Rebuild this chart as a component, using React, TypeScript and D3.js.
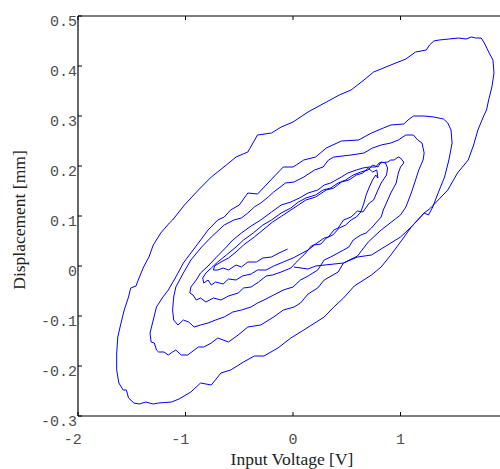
import React from 'react';
import * as d3 from 'd3';

// measured displacement vs. input voltage, one continuous decaying spiral
const startPath = [[0.01,-0.002],[0.14,-0.006],[0.21,0],[0.47,0.006],[0.60,0.018],[0.73,0.022],[0.91,0.046],[1.00,0.058],[1.10,0.078],[1.22,0.106]];

const loop1 = [[1.28,0.116],[1.44,0.152],[1.53,0.186],[1.63,0.212],[1.68,0.242],[1.72,0.272],[1.77,0.298],[1.80,0.312],[1.82,0.332],[1.85,0.358],[1.87,0.386],[1.86,0.412],[1.82,0.428],[1.78,0.446],[1.75,0.456],[1.70,0.456],[1.66,0.458],[1.61,0.454],[1.54,0.456],[1.45,0.454],[1.36,0.452],[1.31,0.450],[1.27,0.442],[1.24,0.432],[1.14,0.428],[1.05,0.414],[0.91,0.402],[0.75,0.388],[0.66,0.372],[0.54,0.352],[0.43,0.342],[0.31,0.328],[0.14,0.308],[0.0,0.288],[-0.11,0.278],[-0.20,0.266],[-0.33,0.262],[-0.42,0.228],[-0.53,0.218],[-0.62,0.202],[-0.76,0.178],[-0.88,0.152],[-1.01,0.122],[-1.12,0.092],[-1.15,0.086],[-1.23,0.066],[-1.30,0.042],[-1.34,0.018],[-1.39,-0.002],[-1.44,-0.028],[-1.46,-0.040],[-1.51,-0.044],[-1.53,-0.062],[-1.57,-0.088],[-1.60,-0.114],[-1.63,-0.142],[-1.64,-0.174],[-1.64,-0.208],[-1.62,-0.234],[-1.58,-0.248],[-1.55,-0.248],[-1.53,-0.264],[-1.48,-0.274],[-1.43,-0.276],[-1.37,-0.272],[-1.30,-0.276],[-1.25,-0.274],[-1.13,-0.272],[-1.06,-0.266],[-0.95,-0.252],[-0.86,-0.234],[-0.76,-0.238],[-0.67,-0.214],[-0.58,-0.208],[-0.46,-0.192],[-0.36,-0.180],[-0.27,-0.180],[-0.14,-0.164],[-0.02,-0.144],[0.10,-0.128],[0.29,-0.102],[0.38,-0.082],[0.47,-0.064],[0.57,-0.040],[0.73,-0.018],[0.82,-0.002],[0.91,0.022],[1.00,0.048],[1.10,0.078],[1.22,0.106]];

const loop2 = [[1.26,0.102],[1.30,0.118],[1.35,0.146],[1.41,0.178],[1.45,0.212],[1.48,0.246],[1.47,0.272],[1.44,0.286],[1.40,0.294],[1.31,0.298],[1.22,0.300],[1.12,0.300],[1.07,0.292],[1.03,0.284],[0.91,0.282],[0.84,0.276],[0.73,0.266],[0.61,0.252],[0.45,0.250],[0.31,0.236],[0.21,0.218],[0.10,0.212],[0.03,0.202],[0,0.198],[-0.09,0.198],[-0.18,0.178],[-0.25,0.162],[-0.33,0.144],[-0.42,0.146],[-0.50,0.122],[-0.58,0.112],[-0.64,0.098],[-0.70,0.092],[-0.79,0.072],[-0.88,0.046],[-0.95,0.026],[-1.02,0.006],[-1.09,-0.022],[-1.16,-0.048],[-1.21,-0.062],[-1.27,-0.082],[-1.30,-0.108],[-1.33,-0.134],[-1.32,-0.152],[-1.29,-0.154],[-1.27,-0.168],[-1.25,-0.172],[-1.20,-0.172],[-1.16,-0.178],[-1.12,-0.172],[-1.09,-0.168],[-1.04,-0.178],[-0.98,-0.178],[-0.88,-0.162],[-0.83,-0.162],[-0.76,-0.154],[-0.70,-0.144],[-0.60,-0.152],[-0.51,-0.138],[-0.42,-0.122],[-0.30,-0.118],[-0.18,-0.102],[-0.09,-0.088],[0.01,-0.082],[0.07,-0.074],[0.14,-0.056],[0.23,-0.044],[0.29,-0.028],[0.42,-0.012],[0.47,0.006],[0.60,0.020],[0.70,0.048],[0.82,0.072],[0.94,0.092],[1.00,0.102]];

const loop3 = [[1.05,0.118],[1.10,0.146],[1.14,0.172],[1.17,0.192],[1.21,0.212],[1.22,0.226],[1.20,0.246],[1.16,0.252],[1.12,0.262],[1.05,0.262],[0.98,0.252],[0.91,0.246],[0.82,0.242],[0.74,0.236],[0.66,0.226],[0.54,0.222],[0.38,0.218],[0.33,0.212],[0.28,0.198],[0.20,0.192],[0.10,0.178],[0.01,0.168],[-0.07,0.166],[-0.13,0.156],[-0.18,0.148],[-0.23,0.138],[-0.30,0.126],[-0.36,0.118],[-0.42,0.106],[-0.48,0.096],[-0.55,0.092],[-0.64,0.082],[-0.76,0.058],[-0.85,0.038],[-0.95,0.012],[-1.02,-0.014],[-1.09,-0.042],[-1.11,-0.062],[-1.12,-0.088],[-1.11,-0.108],[-1.07,-0.118],[-1.02,-0.108],[-0.97,-0.112],[-0.92,-0.122],[-0.86,-0.118],[-0.79,-0.114],[-0.72,-0.108],[-0.64,-0.102],[-0.56,-0.092],[-0.48,-0.088],[-0.39,-0.082],[-0.33,-0.074],[-0.27,-0.068],[-0.18,-0.058],[-0.09,-0.048],[0.0,-0.042],[0.07,-0.028],[0.14,-0.02],[0.23,-0.008],[0.29,0.012],[0.35,0.018],[0.47,0.032],[0.52,0.038],[0.56,0.052],[0.63,0.062],[0.68,0.066],[0.73,0.076],[0.77,0.086],[0.82,0.098],[0.84,0.112]];

const loop4 = [[0.91,0.146],[0.96,0.166],[0.98,0.186],[1.00,0.198],[1.03,0.206],[1.03,0.208],[1.00,0.216],[0.98,0.218],[0.94,0.212],[0.91,0.212],[0.88,0.208],[0.80,0.206],[0.77,0.198],[0.71,0.198],[0.65,0.196],[0.59,0.192],[0.51,0.186],[0.45,0.178],[0.35,0.166],[0.29,0.162],[0.23,0.152],[0.14,0.146],[0.06,0.136],[-0.02,0.128],[-0.11,0.122],[-0.20,0.108],[-0.30,0.092],[-0.39,0.080],[-0.48,0.066],[-0.56,0.052],[-0.62,0.038],[-0.72,0.016],[-0.79,0.0],[-0.86,-0.014],[-0.90,-0.028],[-0.95,-0.042],[-0.96,-0.054],[-0.93,-0.058],[-0.90,-0.068],[-0.86,-0.064],[-0.81,-0.072],[-0.74,-0.064],[-0.67,-0.068],[-0.60,-0.060],[-0.51,-0.054],[-0.46,-0.044],[-0.39,-0.042],[-0.32,-0.032],[-0.25,-0.020],[-0.19,-0.018],[-0.11,-0.012],[-0.02,-0.004],[0.05,0.012],[0.11,0.024],[0.17,0.040],[0.21,0.044],[0.29,0.056],[0.33,0.058],[0.38,0.072],[0.42,0.076],[0.47,0.092],[0.54,0.098],[0.60,0.110],[0.65,0.108],[0.71,0.126],[0.75,0.132]];

const loop5 = [[0.79,0.152],[0.82,0.166],[0.87,0.182],[0.88,0.196],[0.86,0.206],[0.82,0.208],[0.79,0.198],[0.74,0.202],[0.70,0.192],[0.63,0.188],[0.56,0.182],[0.49,0.172],[0.42,0.166],[0.35,0.156],[0.28,0.152],[0.21,0.142],[0.12,0.136],[0.05,0.128],[-0.02,0.116],[-0.11,0.106],[-0.20,0.092],[-0.28,0.082],[-0.37,0.066],[-0.46,0.052],[-0.53,0.038],[-0.62,0.022],[-0.70,0.008],[-0.76,-0.004],[-0.81,-0.014],[-0.84,-0.024],[-0.83,-0.034],[-0.79,-0.028],[-0.76,-0.038],[-0.72,-0.032],[-0.65,-0.036],[-0.60,-0.026],[-0.53,-0.028],[-0.47,-0.020],[-0.39,-0.016],[-0.33,-0.008],[-0.25,-0.008],[-0.18,0.0],[-0.09,0.008],[0.0,0.016],[0.07,0.024],[0.14,0.032],[0.20,0.042],[0.26,0.044],[0.31,0.056],[0.37,0.062],[0.43,0.076],[0.49,0.082],[0.54,0.092],[0.59,0.098],[0.63,0.108]];

const loop6 = [[0.66,0.126],[0.68,0.142],[0.71,0.158],[0.74,0.172],[0.77,0.182],[0.79,0.176],[0.78,0.192],[0.74,0.188],[0.70,0.196],[0.65,0.186],[0.59,0.182],[0.52,0.172],[0.45,0.168],[0.38,0.156],[0.31,0.152],[0.21,0.138],[0.12,0.132],[0.05,0.122],[-0.02,0.112],[-0.09,0.102],[-0.19,0.088],[-0.28,0.072],[-0.36,0.058],[-0.46,0.042],[-0.53,0.028],[-0.60,0.016],[-0.67,0.008],[-0.73,0.0],[-0.74,-0.008],[-0.70,-0.008],[-0.65,-0.004],[-0.60,-0.008],[-0.53,0.002],[-0.48,-0.002],[-0.42,0.008],[-0.34,0.008],[-0.28,0.016],[-0.20,0.018],[-0.13,0.026],[-0.05,0.034]];

const xTicks = [-2, -1, 0, 1];
const xTickLabels = ['-2', '-1', '0', '1'];
const yTicks = [-0.3, -0.2, -0.1, 0, 0.1, 0.2, 0.3, 0.4, 0.5];
const yTickLabels = ['-0.3', '-0.2', '-0.1', '0', '0.1', '0.2', '0.3', '0.4', '0.5'];

const W = 500;
const H = 469;
const tickFont = { fontFamily: '"Liberation Mono", monospace', fontSize: '15px', fill: '#4d4d4d' };
const titleFont = { fontFamily: '"Liberation Serif", serif', fontSize: '17.5px', fill: '#222' };

const App = () => {
	const x = d3.scaleLinear().domain([-2, 2]).range([78, 508]);
	const y = d3.scaleLinear().domain([-0.3, 0.5]).range([416, 16]);
	const line = d3.line<number[]>().x(d => x(d[0])).y(d => y(d[1]));
	const points = [...startPath, ...loop1, ...loop2, ...loop3, ...loop4, ...loop5, ...loop6];
	const [x0] = x.range();
	const [y0, y1] = y.range();

	return (
		<svg width={W} height={H} style={{ position: 'absolute', left: 0, top: 0, background: '#fff' }}>
			<path d={line(points) || ''} fill='none' stroke='#0000ff' strokeWidth={1} strokeLinejoin='round' />

			{/* frame */}
			<line x1={x0} x2={W} y1={y0} y2={y0} stroke='#000' strokeWidth={1.2} />
			<line x1={x0} x2={W} y1={y1} y2={y1} stroke='#000' strokeWidth={1.2} />
			<line x1={x0} x2={x0} y1={y1} y2={y0} stroke='#000' strokeWidth={1.2} />

			{xTicks.map((t, i) => (
				<g key={'x' + i}>
					<line x1={x(t)} x2={x(t)} y1={y0} y2={y0 - 4} stroke='#000' />
					<line x1={x(t)} x2={x(t)} y1={y1} y2={y1 + 4} stroke='#000' />
					<text x={x(t)} y={y0 + 27.5} textAnchor='middle' dx={t < 0 ? '-0.35em' : 0} style={tickFont}>{xTickLabels[i]}</text>
				</g>
			))}

			{yTicks.map((t, i) => (
				<g key={'y' + i}>
					<line x1={x0} x2={x0 + 4} y1={y(t)} y2={y(t)} stroke='#000' />
					<text x={x0 - 1} y={y(t) + 9.5} textAnchor='end' style={tickFont}>{yTickLabels[i]}</text>
				</g>
			))}

			<text x={292} y={465} textAnchor='middle' style={titleFont}>Input Voltage [V]</text>
			<text transform={`translate(25 ${(y0 + y1) / 2 + 4}) rotate(-90)`} textAnchor='middle' style={titleFont}>Displacement [mm]</text>
		</svg>
	);
};

export default App;
